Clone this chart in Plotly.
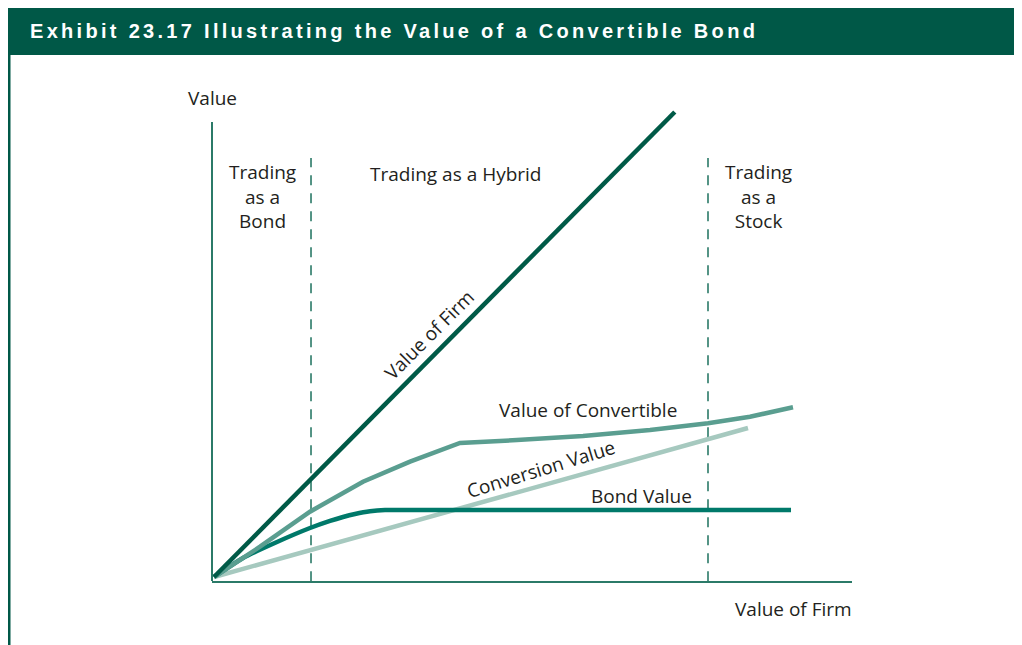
import plotly.graph_objects as go

# the page puts the figure 8px in from the top-left corner
OFF = 8
W, H = 1022 - OFF, 645 - OFF
# plot area in page pixels
L, R, T, B = 212, 852, 100, 581


def px(x):
    return (x - L) / (R - L)


def py(y):
    return (B - y) / (B - T)


# values (x = value of firm, y = value)
firm_x = [0, 72.0]
firm_y = [0, 101.1]

convertible_x = [0, 7.19, 15.0, 19.22, 23.28, 30.63, 38.44, 47.34, 57.66, 68.13, 77.19, 83.75, 90.47]
convertible_y = [0, 6.59, 14.2, 17.5, 20.72, 25.07, 29.13, 29.78, 30.65, 31.96, 33.41, 34.85, 36.89]

bond_x = [0, 4.53, 9.84, 15.0, 18.13, 20.16, 22.03, 24.38, 26.72, 90.16]
bond_y = [0, 4.13, 7.61, 10.65, 12.2, 13.05, 13.7, 14.3, 14.57, 14.57]

conversion_x = [0, 83.44]
conversion_y = [0, 32.39]

# regime boundaries (bond / hybrid / stock)
boundary_x = [15.16, 77.19]
boundary_top = 91.1

TEXT = "#231f20"
FONT = "Open Sans"

fig = go.Figure()

for bx in boundary_x:
    fig.add_trace(go.Scatter(x=[bx, bx], y=[-0.9, boundary_top], mode="lines",
                             line=dict(color="#2b7a68", width=1.6, dash="10px,8px"),
                             hoverinfo="skip"))

fig.add_trace(go.Scatter(x=conversion_x, y=conversion_y, mode="lines",
                         line=dict(color="#a6c9bf", width=4.5), name="Conversion Value"))
fig.add_trace(go.Scatter(x=bond_x, y=bond_y, mode="lines",
                         line=dict(color="#00796a", width=4.5, shape="spline", smoothing=0.5),
                         name="Bond Value"))
fig.add_trace(go.Scatter(x=convertible_x, y=convertible_y, mode="lines",
                         line=dict(color="#5a9e90", width=4.5), name="Value of Convertible"))
fig.add_trace(go.Scatter(x=firm_x, y=firm_y, mode="lines",
                         line=dict(color="#005a47", width=4.5), name="Value of Firm"))

shapes = [
    # header band and left rule
    dict(type="rect", xref="paper", yref="paper", x0=px(8), x1=px(1022), y0=py(55), y1=py(8),
         fillcolor="#005847", line_width=0, layer="below"),
    dict(type="rect", xref="paper", yref="paper", x0=px(8), x1=px(10.5), y0=py(645), y1=py(55),
         fillcolor="#005847", line_width=0, layer="below"),
    # value axis
    dict(type="line", xref="paper", yref="paper", x0=0, x1=0, y0=0, y1=py(122),
         line=dict(color="#2b7a68", width=2)),
]

notes = [
    ("Value", 212, 98, 0),
    ("Trading<br>as a<br>Bond", 262, 197, 0),
    ("Trading as a Hybrid", 456, 174, 0),
    ("Trading<br>as a<br>Stock", 758, 197, 0),
    ("Value of Firm", 429, 335, -45),
    ("Value of Convertible", 588, 410, 0),
    ("Conversion Value", 541, 469, -17),
    ("Bond Value", 641, 496, 0),
    ("Value of Firm", 793, 609, 0),
]
annotations = []
for text, x, y, ang in notes:
    annotations.append(dict(text=text, xref="paper", yref="paper", x=px(x), y=py(y),
                            xanchor="center", yanchor="middle", showarrow=False,
                            textangle=ang, font=dict(family=FONT, size=19, color=TEXT)))

annotations.append(dict(
    text='<span style="letter-spacing:3.3px"><b>Exhibit 23.17 Illustrating the Value of a Convertible Bond</b></span>',
    xref="paper", yref="paper", x=px(28), y=py(30.5),
    xanchor="left", yanchor="middle", showarrow=False,
    font=dict(family="Liberation Sans", size=20, color="white")))

fig.update_layout(
    width=W, height=H,
    margin=dict(l=L - OFF, r=1022 - R, t=T - OFF, b=645 - B),
    paper_bgcolor="white", plot_bgcolor="white",
    showlegend=False,
    shapes=shapes, annotations=annotations,
    xaxis=dict(range=[-0.31, 99.69], showgrid=False, zeroline=False, showticklabels=False,
               ticks="", showline=True, linecolor="#2b7a68", linewidth=2, fixedrange=True),
    yaxis=dict(range=[-0.87, 103.7], showgrid=False, zeroline=False, showticklabels=False,
               ticks="", showline=False, fixedrange=True),
)

fig.write_html("out.html")
